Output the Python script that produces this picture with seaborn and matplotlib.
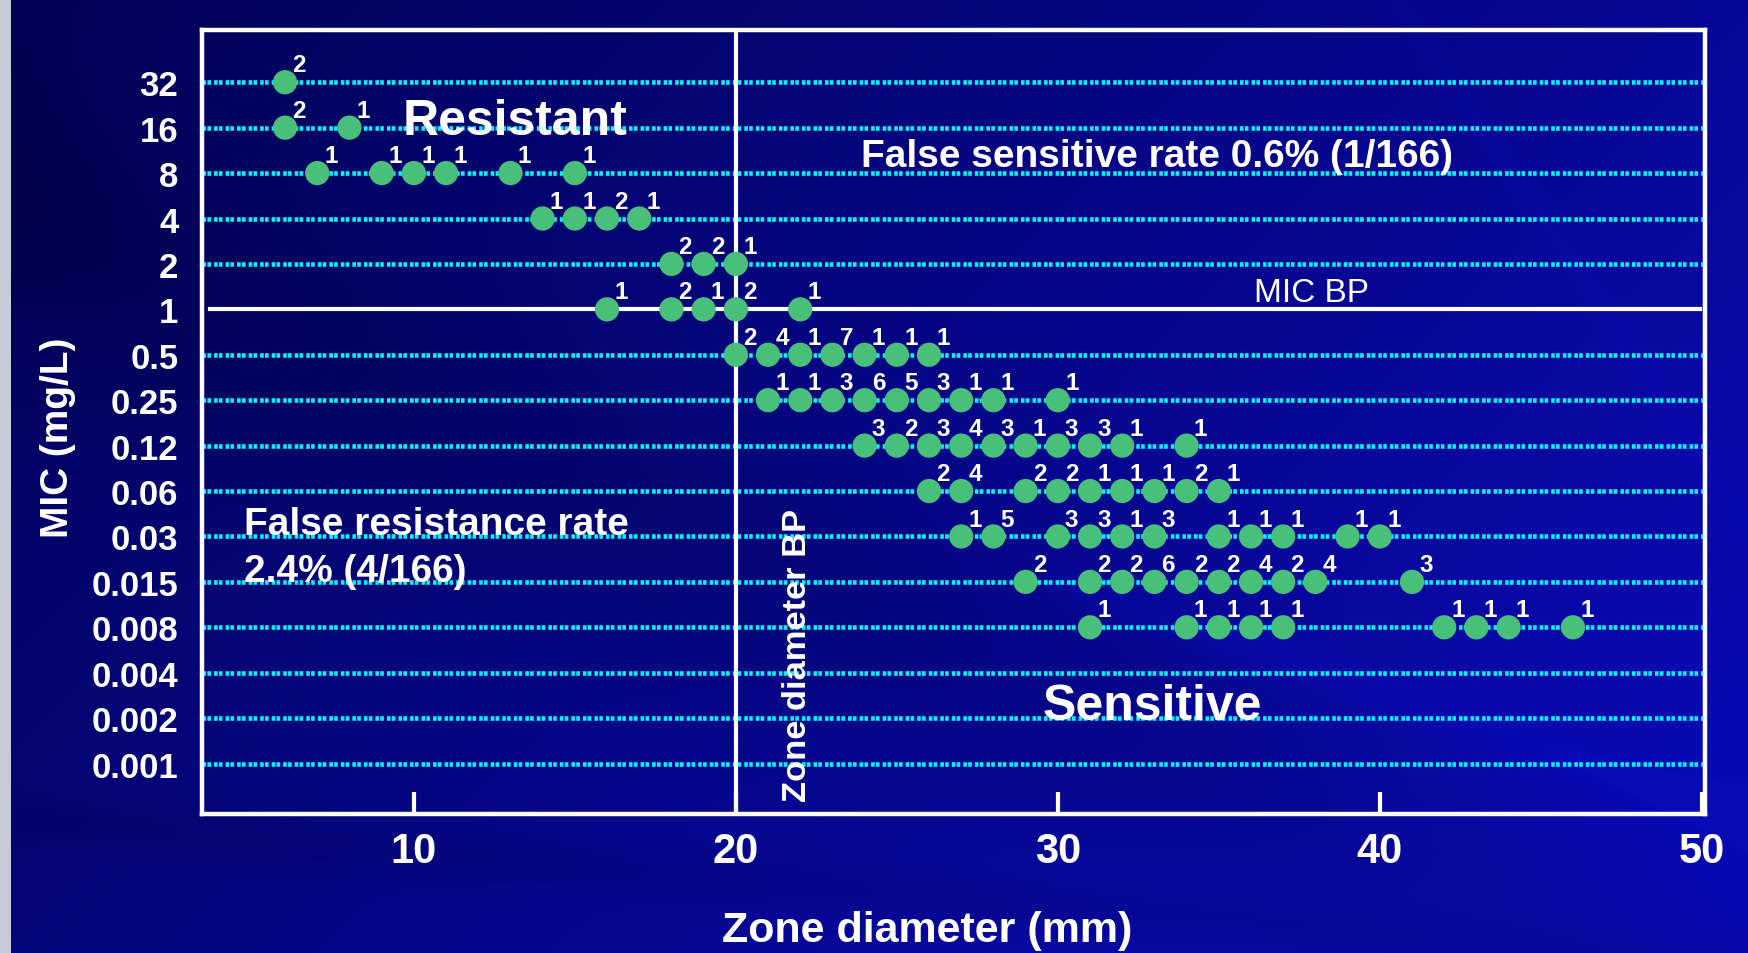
import numpy as np
import pandas as pd
import matplotlib
matplotlib.use("Agg")
import matplotlib.pyplot as plt
from matplotlib.patches import Rectangle
import seaborn as sns

# MIC dilution series on the y axis, top to bottom (mg/L)
mic_levels = ["32", "16", "8", "4", "2", "1", "0.5", "0.25", "0.12", "0.06",
              "0.03", "0.015", "0.008", "0.004", "0.002", "0.001"]
x_ticks = [10, 20, 30, 40, 50]

# One entry per dot: inhibition zone diameter (mm), MIC (mg/L), isolates
zone_mm = [6,
           6, 8,
           7, 9, 10, 11, 13, 15,
           14, 15, 16, 17,
           18, 19, 20,
           16, 18, 19, 20, 22,
           20, 21, 22, 23, 24, 25, 26,
           21, 22, 23, 24, 25, 26, 27, 28, 30,
           24, 25, 26, 27, 28, 29, 30, 31, 32, 34,
           26, 27, 29, 30, 31, 32, 33, 34, 35,
           27, 28, 30, 31, 32, 33, 35, 36, 37, 39, 40,
           29, 31, 32, 33, 34, 35, 36, 37, 38, 41,
           31, 34, 35, 36, 37, 42, 43, 44, 46]
mic = (["32"] * 1 + ["16"] * 2 + ["8"] * 6 + ["4"] * 4 + ["2"] * 3 +
       ["1"] * 5 + ["0.5"] * 7 + ["0.25"] * 9 + ["0.12"] * 10 +
       ["0.06"] * 9 + ["0.03"] * 11 + ["0.015"] * 10 + ["0.008"] * 9)
isolates = [2,
            2, 1,
            1, 1, 1, 1, 1, 1,
            1, 1, 2, 1,
            2, 2, 1,
            1, 2, 1, 2, 1,
            2, 4, 1, 7, 1, 1, 1,
            1, 1, 3, 6, 5, 3, 1, 1, 1,
            3, 2, 3, 4, 3, 1, 3, 3, 1, 1,
            2, 4, 2, 2, 1, 1, 1, 2, 1,
            1, 5, 3, 3, 1, 3, 1, 1, 1, 1, 1,
            2, 2, 2, 6, 2, 2, 4, 2, 4, 3,
            1, 1, 1, 1, 1, 1, 1, 1, 1]

# breakpoints
zone_bp = 20
mic_bp = "1"

plt.rcParams["font.family"] = ["Liberation Sans", "DejaVu Sans"]
plt.rcParams["lines.scale_dashes"] = False

W, H = 1748, 954
GREEN = "#48C07A"
CYAN = "#00F4F8"


def level(m):
    # position on a doubling-dilution scale: 32 mg/L -> 5, 16 -> 4, ...
    return 5 - mic_levels.index(m)


df = pd.DataFrame({"zone": zone_mm, "mic": mic, "n": isolates})
df["level"] = df["mic"].map(level)

fig = plt.figure(figsize=(W / 100, H / 100), dpi=100)

# ---- slide-style navy background with soft diagonal bands ----
bg = fig.add_axes([0, 0, 1, 1], zorder=-10)
gy, gx = np.mgrid[0:1:240j, 0:1:440j]
px, py = gx * W, gy * H


def band(x0, y0, x1, y1, width):
    x0, x1 = x0 * W, x1 * W
    y0, y1 = y0 * H, y1 * H
    dx, dy = x1 - x0, y1 - y0
    d = np.abs(dy * (px - x0) - dx * (py - y0)) / np.hypot(dx, dy)
    return np.exp(-(d / width) ** 2)


t = 0.55 * gx + 0.30 * gy + 0.18
t -= 0.12 * band(0.0, 0.22, 0.85, 0.95, 130)
t -= 0.08 * band(0.0, 0.86, 0.45, 0.93, 25)
t += 0.10 * band(0.62, 0.62, 1.0, 0.86, 22) * (gx > 0.6)
t += 0.06 * band(0.80, 0.0, 1.0, 0.55, 12)
t = np.clip(t, 0, 1)
dark = np.array([0.0, 0.0, 0.25])
light = np.array([0.04, 0.04, 0.72])
rgb = dark + t[..., None] * (light - dark)
bg.imshow(rgb, extent=[0, 1, 0, 1], origin="upper", aspect="auto",
          interpolation="bilinear")
bg.set_axis_off()
fig.add_artist(Rectangle((0, 0), 11 / W, 1, transform=fig.transFigure,
                         facecolor="#C9CADA", edgecolor="none", zorder=-5))

# ---- main scatter axes ----
ax = fig.add_axes([202 / W, 1 - 815 / H, (1705 - 202) / W, (815 - 31) / H])
ax.patch.set_alpha(0)

for m in mic_levels:
    if m == mic_bp:
        continue
    ax.axhline(level(m), color=CYAN, lw=3.3, zorder=1,
               linestyle=(0, (2.6, 0.9, 2.6, 2.2)), dash_capstyle="butt")

ax.axvline(zone_bp, color="white", lw=3, zorder=3)
ax.axhline(level(mic_bp), xmin=0.005, xmax=0.997, color="white", lw=3, zorder=3)

sns.scatterplot(data=df, x="zone", y="level", s=305, color=GREEN,
                edgecolor="none", linewidth=0, ax=ax, zorder=5, legend=False)

for _, r in df.iterrows():
    ax.annotate(str(r["n"]), (r["zone"], r["level"]), xytext=(10, 12.5),
                textcoords="offset points", ha="center", va="center",
                color="white", fontsize=17.5, fontweight="bold", zorder=6)

ax.set_xlim(3.42, 50.1)
ax.set_ylim(-11.11, 6.15)
ax.set_xlabel("")
ax.set_ylabel("")

ax.set_xticks(x_ticks)
ax.set_xticklabels([str(v) for v in x_ticks], fontweight="bold")
ax.tick_params(axis="x", direction="in", length=16, width=3, color="white",
               labelcolor="white", labelsize=30, pad=12)
ax.set_yticks([level(m) for m in mic_levels])
ax.set_yticklabels(mic_levels, fontweight="bold")
ax.tick_params(axis="y", length=0, labelcolor="white", labelsize=25, pad=17)
for s in ax.spines.values():
    s.set_color("white")
    s.set_linewidth(3.2)


def fxy(x, y):
    return x / W, 1 - y / H


txt = dict(color="white", fontweight="bold")
fig.text(*fxy(515, 135), "Resistant", fontsize=36, ha="center", va="baseline", **txt)
fig.text(*fxy(1157, 167), "False sensitive rate 0.6% (1/166)", fontsize=28,
         ha="center", va="baseline", **txt)
fig.text(*fxy(1312, 302), "MIC BP", fontsize=24, ha="center", va="baseline",
         color="white")
fig.text(*fxy(244, 535), "False resistance rate", fontsize=28, ha="left",
         va="baseline", **txt)
fig.text(*fxy(244, 582), "2.4% (4/166)", fontsize=28, ha="left",
         va="baseline", **txt)
fig.text(*fxy(1152, 720), "Sensitive", fontsize=36, ha="center", va="baseline", **txt)
fig.text(*fxy(797, 802), "Zone diameter BP", fontsize=24.8, rotation=90,
         ha="center", va="bottom", **txt)
fig.text(*fxy(927, 942), "Zone diameter (mm)", fontsize=31, ha="center",
         va="baseline", **txt)
fig.text(*fxy(58, 438), "MIC (mg/L)", fontsize=28, rotation=90, ha="center",
         va="center", **txt)

fig.savefig("out.png", dpi=100)
